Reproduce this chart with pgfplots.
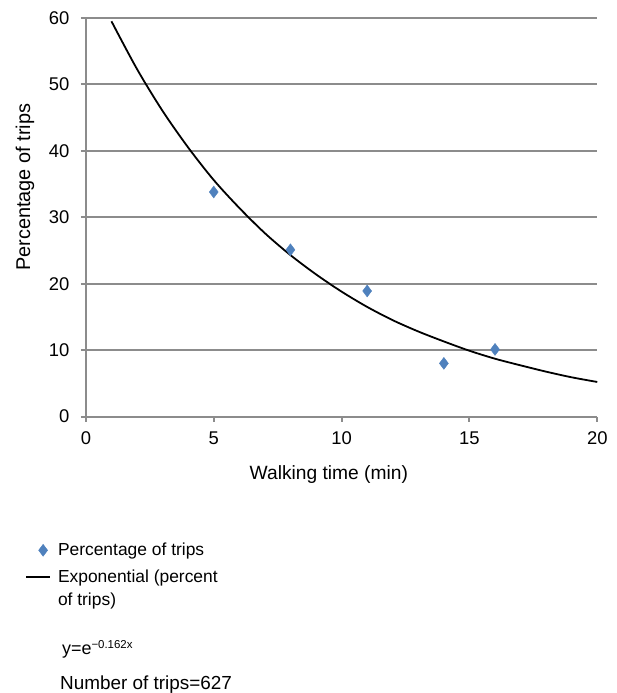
\documentclass[border=0pt]{standalone}
\usepackage{pgfplots}
\pgfplotsset{compat=1.18}
\usepackage{fontspec}
\setmainfont{Liberation Sans}
\definecolor{gridgray}{HTML}{8C8C8C}
\definecolor{ptblue}{HTML}{4F81BD}
\pgfplotsset{
  leglineimg/.style={legend image code/.code={\draw[##1, line width=2bp] (0bp,11.5bp) -- (24bp,11.5bp); \path (29bp,0bp);}},
  legmarkimg/.style={legend image code/.code={\draw[##1] plot coordinates {(17bp,0bp)}; \path (29bp,0bp);}},
}
\begin{document}
\begin{tikzpicture}
\begin{axis}[
  scale only axis, width=512bp, height=399bp,
  xmin=0, xmax=20, ymin=0, ymax=60,
  xtick={0,5,10,15,20}, ytick={0,10,20,30,40,50,60},
  axis x line*=bottom, axis y line*=left,
  axis line style={gridgray, line width=2bp},
  every tick/.style={gridgray, line width=2bp},
  tick align=outside, major tick length=5bp,
  ymajorgrids, grid style={gridgray, line width=2bp},
  /pgf/number format/assume math mode=true,
  tick label style={font=\fontsize{18.5}{21}\selectfont},
  xticklabel style={yshift=-7bp},
  yticklabel style={xshift=-8bp},
  xlabel={Walking time (min)}, ylabel={Percentage of trips},
  xlabel style={font=\fontsize{19.3}{23}\selectfont, at={(axis description cs:0.475,0)}, anchor=center, yshift=-58bp},
  ylabel style={font=\fontsize{20}{23}\selectfont, at={(axis description cs:0,0.575)}, anchor=center, yshift=61bp},
  legend style={draw=none, fill=none, at={(rel axis cs:-0.125,-0.3075)}, anchor=north west,
    font=\fontsize{17.5}{23}\selectfont, cells={align=left, anchor=west}, row sep=9bp},
  legend cell align=left,
  clip=false,
]
\addplot[only marks, mark=diamond*, mark size=6bp, ptblue, legmarkimg] coordinates {
  (5,33.8) (8,25.1) (11,18.9) (14,8.0) (16,10.1)};
\addlegendentry{Percentage of trips}
\addplot[black, line width=1.8bp, smooth, leglineimg] coordinates {
  (1,59.5) (2,52.3) (3,46.0) (4,40.5) (5,35.6) (6,31.4) (7,27.6) (8,24.3)
  (9,21.4) (10,18.8) (11,16.5) (12,14.5) (13,12.8) (14,11.3) (15,9.9)
  (16,8.7) (17,7.7) (18,6.75) (19,5.9) (20,5.2)};
\addlegendentry{Exponential (percent\\of trips)}
\end{axis}
\node[anchor=west, inner sep=0pt, font=\fontsize{18}{21}\selectfont] at ([xshift=-24bp,yshift=-233bp]current axis.south west) {y=e\textsuperscript{\fontsize{11.5}{13}\selectfont −0.162x}};
\node[anchor=west, inner sep=0pt, font=\fontsize{19}{22}\selectfont] at ([xshift=-26bp,yshift=-268bp]current axis.south west) {Number of trips=627};
\path ([xshift=-86bp,yshift=-276bp]current axis.south west) rectangle ++(617bp,693bp);
\end{tikzpicture}
\end{document}
